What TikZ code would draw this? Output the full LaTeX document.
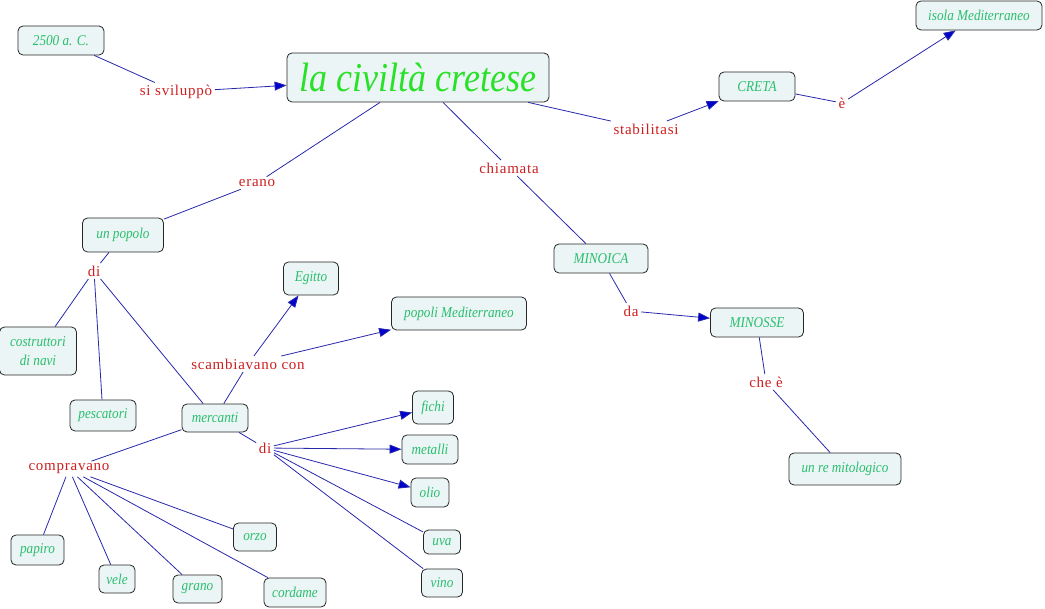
\documentclass[tikz,border=0pt]{standalone}
\usepackage{fontspec}
\usetikzlibrary{arrows.meta}
\newfontfamily\labfont[LetterSpace=5]{Liberation Serif}
\newfontfamily\boxfont[FakeStretch=0.88]{Liberation Serif}
\definecolor{boxfill}{RGB}{236,245,245}
\definecolor{boxtext}{RGB}{40,190,110}
\definecolor{titlegreen}{RGB}{40,225,40}
\definecolor{labred}{RGB}{204,30,30}
\definecolor{linkblue}{RGB}{40,40,170}
\definecolor{tipblue}{RGB}{0,0,205}
\begin{document}
\begin{tikzpicture}[x=1pt,y=-1pt,
  cbox/.style={draw=black!85,fill=boxfill,rounded corners=5pt,text=boxtext,
    font=\boxfont\itshape\fontsize{15}{17}\selectfont,minimum height=29pt,inner xsep=4pt,inner ysep=2pt,line width=0.8pt},
  lab/.style={text=labred,font=\labfont\fontsize{15}{17}\selectfont,inner sep=2.5pt},
  link/.style={draw=linkblue,line width=0.8pt},
  arr/.style={link,-{Triangle[length=12pt,width=9pt,fill=tipblue]}}]
\useasboundingbox (0,0) rectangle (1045,609);
% concepts
\node[cbox,minimum width=86pt] (c2500) at (61,40.5) {2500 a. C.};
\node[cbox,minimum width=262pt,minimum height=49pt,text=titlegreen,font=\boxfont\itshape\fontsize{41}{43}\selectfont] (civ) at (418,77.5) {la civiltà cretese};
\node[cbox,minimum width=76pt] (creta) at (757,86.5) {CRETA};
\node[cbox,minimum width=126pt] (isola) at (979,15.5) {isola Mediterraneo};
\node[cbox,minimum width=81pt,minimum height=34pt] (popolo) at (123,235) {un popolo};
\node[cbox,minimum width=94pt] (minoica) at (601,258.5) {MINOICA};
\node[cbox,minimum width=93pt] (minosse) at (757,322.5) {MINOSSE};
\node[cbox,minimum width=55pt,minimum height=33pt] (egitto) at (311,278.5) {Egitto};
\node[cbox,minimum width=135pt,minimum height=33pt] (popoli) at (459,313.5) {popoli Mediterraneo};
\node[cbox,minimum width=77pt,minimum height=48pt,align=center,font=\boxfont\itshape\fontsize{15}{19}\selectfont] (costr) at (38,351) {costruttori\\di navi};
\node[cbox,minimum width=66pt,minimum height=31pt] (pesc) at (103,415.5) {pescatori};
\node[cbox,minimum width=66pt,minimum height=28pt] (merc) at (215,418) {mercanti};
\node[cbox,minimum width=112pt,minimum height=32pt] (re) at (845,469) {un re mitologico};
\node[cbox,minimum width=41pt,minimum height=33pt] (fichi) at (433,407.5) {fichi};
\node[cbox,minimum width=56pt] (metalli) at (430,449.5) {metalli};
\node[cbox,minimum width=38pt] (olio) at (430,492.5) {olio};
\node[cbox,minimum width=37pt,minimum height=24pt] (uva) at (442,542) {uva};
\node[cbox,minimum width=41pt,minimum height=28pt] (vino) at (442,583) {vino};
\node[cbox,minimum width=43pt,minimum height=28pt] (orzo) at (255,537) {orzo};
\node[cbox,minimum width=53pt,minimum height=30pt] (papiro) at (37.5,550) {papiro};
\node[cbox,minimum width=36pt,minimum height=28pt] (vele) at (117,579) {vele};
\node[cbox,minimum width=49pt,minimum height=28pt] (grano) at (197.5,589) {grano};
\node[cbox,minimum width=62pt,minimum height=29pt] (cordame) at (295,592.5) {cordame};
% linking phrases
\node[lab] (svil) at (176,92) {si sviluppò};
\node[lab] (stab) at (646,129) {stabilitasi};
\node[lab] (e1) at (842,103) {è};
\node[lab] (erano) at (257,183) {erano};
\node[lab] (chiam) at (509,168) {chiamata};
\node[lab] (di1) at (94,271) {di};
\node[lab] (da) at (631,311) {da};
\node[lab] (chee) at (766,382) {che è};
\node[lab] (scamb) at (248,364) {scambiavano con};
\node[lab] (di2) at (265,448) {di};
\node[lab] (compr) at (69,469) {compravano};
% connectors
\draw[link] (c2500) -- (svil);
\draw[arr] (svil) -- (civ);
\draw[link] (civ) -- (erano);
\draw[link] (erano) -- (popolo);
\draw[link] (civ) -- (chiam);
\draw[link] (chiam) -- (minoica);
\draw[link] (civ) -- (stab);
\draw[arr] (stab) -- (creta);
\draw[link] (creta) -- (e1);
\draw[arr] (e1) -- (isola);
\draw[link] (popolo) -- (di1);
\draw[link] (di1) -- (costr);
\draw[link] (di1) -- (pesc);
\draw[link] (di1) -- (merc);
\draw[link] (minoica) -- (da);
\draw[arr] (da) -- (minosse);
\draw[link] (minosse) -- (chee);
\draw[link] (chee) -- (re);
\draw[link] (merc) -- (scamb);
\draw[arr] (scamb) -- (egitto);
\draw[arr] (scamb) -- (popoli);
\draw[link] (merc) -- (di2);
\draw[arr] (di2) -- (fichi);
\draw[arr] (di2) -- (metalli);
\draw[arr] (di2) -- (olio);
\draw[link] (di2) -- (uva);
\draw[link] (di2) -- (vino);
\draw[link] (merc) -- (compr);
\draw[link] (compr) -- (papiro);
\draw[link] (compr) -- (vele);
\draw[link] (compr) -- (grano);
\draw[link] (compr) -- (cordame);
\draw[link] (compr) -- (orzo);
\end{tikzpicture}
\end{document}
